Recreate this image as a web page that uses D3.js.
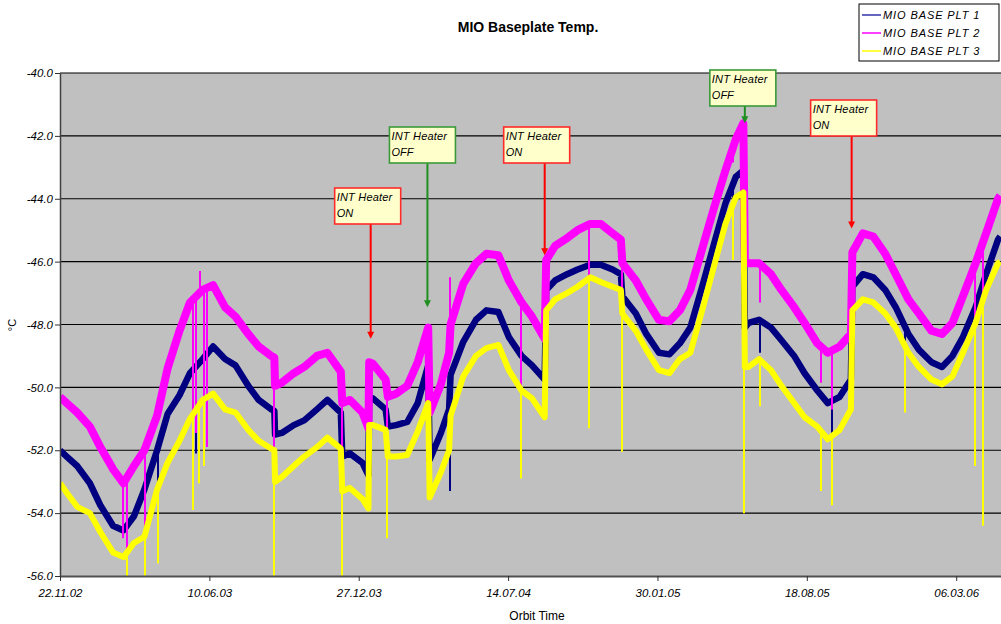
<!DOCTYPE html>
<html>
<head>
<meta charset="utf-8">
<script src="https://cdn.jsdelivr.net/npm/d3@7"></script>
<style>
  body { margin: 0; background: #fff; }
  svg { display: block; font-family: "Liberation Sans", Arial, sans-serif; }
</style>
</head>
<body>
<svg id="chart" width="1001" height="624"></svg>
<script>
// sample dates (shared by the three sensors)
const dates = [
  "2002-11-22","2002-12-01","2002-12-15","2003-01-01","2003-01-15","2003-02-01","2003-02-15","2003-03-01","2003-03-15","2003-04-01",
  "2003-04-15","2003-05-01","2003-05-15","2003-06-01","2003-06-15","2003-07-01","2003-07-15","2003-08-01","2003-08-15","2003-09-01",
  "2003-09-05","2003-09-06","2003-09-15","2003-10-01","2003-10-15","2003-11-01","2003-11-15","2003-12-03","2003-12-05","2003-12-15",
  "2004-01-01","2004-01-09","2004-01-10","2004-01-15","2004-02-01","2004-02-04","2004-02-15","2004-03-01","2004-03-15","2004-03-29",
  "2004-03-31","2004-04-15","2004-04-26","2004-04-28","2004-05-15","2004-06-01","2004-06-15","2004-07-01","2004-07-15","2004-08-01",
  "2004-08-15","2004-09-01","2004-09-03","2004-09-15","2004-10-01","2004-10-15","2004-11-01","2004-11-15","2004-12-01","2004-12-12",
  "2004-12-14","2005-01-01","2005-01-15","2005-02-01","2005-02-15","2005-03-01","2005-03-15","2005-04-01","2005-04-15","2005-05-01",
  "2005-05-15","2005-05-25","2005-05-27","2005-06-01","2005-06-15","2005-07-01","2005-07-15","2005-08-01","2005-08-15","2005-09-01",
  "2005-09-15","2005-10-01","2005-10-16","2005-10-18","2005-11-01","2005-11-15","2005-12-01","2005-12-15","2006-01-01","2006-01-15",
  "2006-02-01","2006-02-15","2006-03-01","2006-03-15","2006-04-01","2006-04-15","2006-05-01","2006-05-04"
]

const plt1 = [
  -52.0,-52.2,-52.5,-53.05,-53.75,-54.4,-54.55,-54.1,-53.25,-52.0,
  -50.85,-50.25,-49.55,-49.1,-48.7,-49.1,-49.3,-49.95,-50.4,-50.7,
  -50.75,-51.5,-51.45,-51.2,-51.05,-50.7,-50.4,-50.8,-52.2,-52.1,
  -52.4,-52.8,-50.3,-50.35,-50.7,-51.25,-51.2,-51.1,-50.5,-49.3,
  -52.3,-51.45,-50.7,-49.6,-48.55,-47.85,-47.55,-47.6,-48.4,-49.0,
  -49.3,-49.75,-46.9,-46.6,-46.4,-46.25,-46.1,-46.1,-46.25,-46.4,
  -47.1,-47.65,-48.3,-48.9,-48.95,-48.6,-48.1,-46.7,-45.5,-44.15,
  -43.3,-43.1,-48.1,-47.95,-47.85,-48.1,-48.5,-49.0,-49.55,-50.1,
  -50.5,-50.3,-49.75,-46.8,-46.4,-46.5,-46.9,-47.45,-48.3,-48.8,
  -49.2,-49.35,-49.0,-48.4,-47.45,-46.4,-45.3,-45.2
]

const plt2 = [
  -50.3,-50.5,-50.8,-51.25,-51.9,-52.6,-53.05,-52.5,-52.0,-50.9,
  -49.4,-48.2,-47.3,-46.9,-46.75,-47.45,-47.75,-48.3,-48.7,-49.0,
  -49.05,-49.95,-49.85,-49.55,-49.35,-49.0,-48.9,-49.5,-50.5,-50.4,
  -50.8,-51.3,-49.2,-49.25,-49.75,-50.3,-50.2,-49.95,-49.2,-48.1,
  -50.8,-49.9,-48.9,-48.0,-46.7,-46.05,-45.75,-45.8,-46.6,-47.3,
  -47.75,-48.45,-45.95,-45.5,-45.25,-45.0,-44.8,-44.8,-45.1,-45.3,
  -46.05,-46.6,-47.2,-47.85,-47.9,-47.55,-46.9,-45.5,-44.35,-43.1,
  -42.1,-41.6,-46.0,-46.05,-46.05,-46.4,-46.9,-47.45,-47.95,-48.6,
  -48.9,-48.7,-48.3,-45.7,-45.1,-45.2,-45.75,-46.4,-47.2,-47.65,
  -48.2,-48.3,-47.95,-47.1,-46.05,-45.1,-44.0,-43.9
]

const plt3 = [
  -53.05,-53.35,-53.8,-54.0,-54.6,-55.25,-55.4,-54.95,-54.75,-53.25,
  -52.4,-51.7,-51.0,-50.4,-50.2,-50.7,-50.8,-51.35,-51.7,-51.95,
  -52.0,-53.0,-52.85,-52.5,-52.2,-51.9,-51.6,-51.95,-53.3,-53.2,
  -53.55,-53.85,-51.2,-51.2,-51.35,-52.2,-52.2,-52.15,-51.4,-50.5,
  -53.5,-52.7,-52.0,-50.9,-49.65,-49.0,-48.75,-48.65,-49.45,-50.1,
  -50.35,-50.95,-47.55,-47.2,-47.0,-46.8,-46.5,-46.65,-46.8,-46.9,
  -47.65,-48.2,-48.8,-49.45,-49.55,-49.1,-48.9,-47.45,-46.2,-44.8,
  -43.95,-43.8,-49.35,-49.35,-49.1,-49.45,-49.95,-50.5,-50.95,-51.25,
  -51.65,-51.35,-50.7,-47.55,-47.2,-47.3,-47.65,-48.1,-48.9,-49.35,
  -49.75,-49.9,-49.65,-48.9,-47.95,-46.9,-46.05,-46.0
]

// short glitches in the telemetry: [date, extreme value]
const dips1 = [
  ["2003-02-20",-56],["2003-04-02",-54.2],["2003-05-23",-52.1],["2003-09-05",-53.0],
  ["2003-12-04",-53.0],["2004-02-03",-53.6],["2004-04-27",-53.3],["2005-05-11",-45.0],
  ["2005-05-26",-50.8],["2005-06-16",-48.9],["2005-09-21",-51.7],["2005-12-27",-48.9],
  ["2006-03-31",-51.0]
]
const dips2 = [
  ["2003-02-14",-54.8],["2003-02-20",-56],["2003-03-16",-56],["2003-05-19",-51.6],
  ["2003-05-23",-51.45],["2003-05-28",-46.3],["2003-06-03",-51.35],["2003-06-07",-51.9],
  ["2003-09-05",-53.3],["2003-12-04",-53.2],["2004-02-03",-52.5],["2004-04-27",-46.5],
  ["2004-07-31",-50.2],["2004-10-30",-48.8],["2004-12-13",-49.55],["2005-05-11",-42.85],
  ["2005-05-26",-48.9],["2005-05-30",-45.1],["2005-06-16",-47.3],["2005-09-06",-49.85],
  ["2005-09-21",-50.7],["2005-12-27",-47.2],["2006-03-31",-50.3],["2006-04-11",-50.9]
]
const dips3 = [
  ["2003-02-20",-56],["2003-03-16",-56],["2003-04-02",-55.6],["2003-05-19",-53.9],
  ["2003-05-27",-53.05],["2003-06-03",-52.5],["2003-09-05",-56],["2003-12-04",-56],
  ["2004-02-03",-54.8],["2004-07-31",-52.9],["2004-09-02",-51.0],["2004-10-30",-51.3],
  ["2004-12-13",-52.05],["2005-05-11",-45.95],["2005-05-26",-54.0],["2005-06-16",-50.6],
  ["2005-09-06",-53.3],["2005-09-21",-53.75],["2005-12-27",-50.8],["2006-03-31",-52.5],
  ["2006-04-11",-54.4]
]

const seriesNames = ["MIO BASE PLT 1", "MIO BASE PLT 2", "MIO BASE PLT 3"]
const seriesColors = ["#000080", "#ff00ff", "#ffff00"]

const yTicks = [-40, -42, -44, -46, -48, -50, -52, -54, -56]
const xTickDates = ["2002-11-22","2003-06-10","2003-12-27","2004-07-14","2005-01-30","2005-08-18","2006-03-06"]

// heater switching notes: arrow tip at (date, temperature)
const noteDates = ["2004-01-12","2004-03-28","2004-09-01","2005-05-27","2005-10-17"]
const noteValues = [-48.45, -47.45, -45.8, -41.6, -44.95]
const noteStates = ["ON", "OFF", "ON", "OFF", "ON"]
// box layout (pixels)
const noteBoxTop = [188, 127, 127, 70, 100]
const noteBoxShift = [-36, -38, -41, -35, -41]

const parse = d3.timeParse("%Y-%m-%d")
const plotLeft = 60, plotRight = 1001, plotTop = 73, plotBottom = 576

const x = d3.scaleTime()
  .domain([parse("2002-11-22"), parse("2006-05-05")])
  .range([plotLeft, plotRight])
const y = d3.scaleLinear().domain([-56, -40]).range([plotBottom, plotTop])

const svg = d3.select("#chart")

svg.append("defs").append("clipPath").attr("id", "plotclip")
  .append("rect")
  .attr("x", plotLeft).attr("y", plotTop - 1)
  .attr("width", plotRight - plotLeft).attr("height", plotBottom - plotTop + 1)

// plot background
svg.append("rect")
  .attr("x", plotLeft).attr("y", plotTop)
  .attr("width", plotRight - plotLeft).attr("height", plotBottom - plotTop)
  .attr("fill", "#c0c0c0")

// gridlines
svg.append("g").selectAll("line")
  .data(yTicks.filter(d => d > -56))
  .enter().append("line")
  .attr("x1", plotLeft).attr("x2", plotRight)
  .attr("y1", d => y(d)).attr("y2", d => y(d))
  .attr("stroke", "#000")
  .attr("stroke-width", 1.2)

const parsedDates = dates.map(parse)
const allSeries = [plt1, plt2, plt3]
const allDips = [dips1, dips2, dips3]
const widths = [6.5, 8, 6]

// value of a series at any date (for attaching glitch lines)
function valueAt(values, date) {
  const i = d3.bisectRight(parsedDates, date)
  if (i <= 0) return values[0]
  if (i >= parsedDates.length) return values[values.length - 1]
  const t0 = parsedDates[i - 1], t1 = parsedDates[i]
  const f = (date - t0) / (t1 - t0)
  return values[i - 1] + f * (values[i] - values[i - 1])
}

const plot = svg.append("g").attr("clip-path", "url(#plotclip)")

const line = d3.line()
  .x(d => x(d[0]))
  .y(d => y(d[1]))

allSeries.forEach((values, s) => {
  const g = plot.append("g")
  g.append("path")
    .datum(parsedDates.map((d, i) => [d, values[i]]))
    .attr("d", line)
    .attr("fill", "none")
    .attr("stroke", seriesColors[s])
    .attr("stroke-width", widths[s])
    .attr("stroke-linejoin", "round")

  g.selectAll("line.dip")
    .data(allDips[s])
    .enter().append("line")
    .attr("class", "dip")
    .attr("x1", d => Math.round(x(parse(d[0]))))
    .attr("x2", d => Math.round(x(parse(d[0]))))
    .attr("y1", d => y(valueAt(values, parse(d[0]))))
    .attr("y2", d => y(d[1]))
    .attr("stroke", seriesColors[s])
    .attr("stroke-width", 2)
})

// axes
const fmt = d => d.toFixed(1)
const yAxis = svg.append("g")
  .attr("transform", `translate(${plotLeft},0)`)
  .call(d3.axisLeft(y).tickValues(yTicks).tickFormat(fmt).tickSize(5).tickSizeOuter(0))
const xAxis = svg.append("g")
  .attr("transform", `translate(0,${plotBottom})`)
  .call(d3.axisBottom(x).tickValues(xTickDates.map(parse))
    .tickFormat(d3.timeFormat("%d.%m.%y")).tickSize(5).tickSizeOuter(0))

yAxis.select(".domain").attr("stroke", "#404040").attr("stroke-width", 1.5)
xAxis.select(".domain").attr("stroke", "#505050").attr("stroke-width", 2)
svg.selectAll(".tick line").attr("stroke", "#303030")
svg.selectAll(".tick text")
  .attr("fill", "#000")
  .style("font-family", "'Liberation Sans', Arial, sans-serif")
  .style("font-size", "11.5px")
  .style("font-style", "italic")
yAxis.selectAll(".tick text").attr("x", -7)
xAxis.selectAll(".tick text").attr("y", 13)

// titles
svg.append("text")
  .attr("x", 528).attr("y", 32)
  .attr("text-anchor", "middle")
  .style("font-size", "14px").style("font-weight", "bold")
  .text("MIO Baseplate Temp.")

svg.append("text")
  .attr("x", 537).attr("y", 620)
  .attr("text-anchor", "middle")
  .style("font-size", "12px")
  .text("Orbit Time")

svg.append("text")
  .attr("transform", "translate(16,325) rotate(-90)")
  .attr("text-anchor", "middle")
  .style("font-size", "11px")
  .text("°C")

// heater notes
const notes = noteDates.map((d, i) => ({
  date: parse(d), value: noteValues[i], state: noteStates[i],
  boxTop: noteBoxTop[i], shift: noteBoxShift[i]
}))
const ng = svg.append("g")
notes.forEach(n => {
  const ax = x(n.date), ay = y(n.value)
  const on = n.state === "ON"
  const border = on ? "#ff2a2a" : "#3a9a3a"
  const arrow = on ? "#ff0000" : "#1f8f1f"
  const bx = ax + n.shift, by = n.boxTop, bw = 66, bh = 36
  ng.append("line")
    .attr("x1", ax).attr("x2", ax)
    .attr("y1", by + bh).attr("y2", ay - 6)
    .attr("stroke", arrow).attr("stroke-width", 2)
  ng.append("path")
    .attr("d", `M${ax - 3.5},${ay - 7}L${ax + 3.5},${ay - 7}L${ax},${ay}Z`)
    .attr("fill", arrow)
  ng.append("rect")
    .attr("x", bx).attr("y", by).attr("width", bw).attr("height", bh)
    .attr("fill", "#ffffcc").attr("stroke", border).attr("stroke-width", 1.6)
  ng.append("text")
    .attr("x", bx + 2).attr("y", by + 13)
    .style("font-size", "11px").style("font-style", "italic")
    .style("letter-spacing", "0.2px")
    .text("INT Heater")
  ng.append("text")
    .attr("x", bx + 2).attr("y", by + 29)
    .style("font-size", "11px").style("font-style", "italic")
    .text(n.state)
})

// legend
const lg = svg.append("g")
lg.append("rect")
  .attr("x", 859).attr("y", 4).attr("width", 140).attr("height", 57)
  .attr("fill", "#fff").attr("stroke", "#000").attr("stroke-width", 1)
seriesNames.forEach((name, i) => {
  const ly = 15 + i * 18
  lg.append("line")
    .attr("x1", 862).attr("x2", 881).attr("y1", ly).attr("y2", ly)
    .attr("stroke", seriesColors[i] === "#000080" ? "#3333aa" : seriesColors[i])
    .attr("stroke-width", 1.5)
  lg.append("text")
    .attr("x", 883).attr("y", ly + 4)
    .style("font-size", "11px").style("font-style", "italic")
    .style("letter-spacing", "0.9px")
    .text(name)
})
</script>
</body>
</html>
